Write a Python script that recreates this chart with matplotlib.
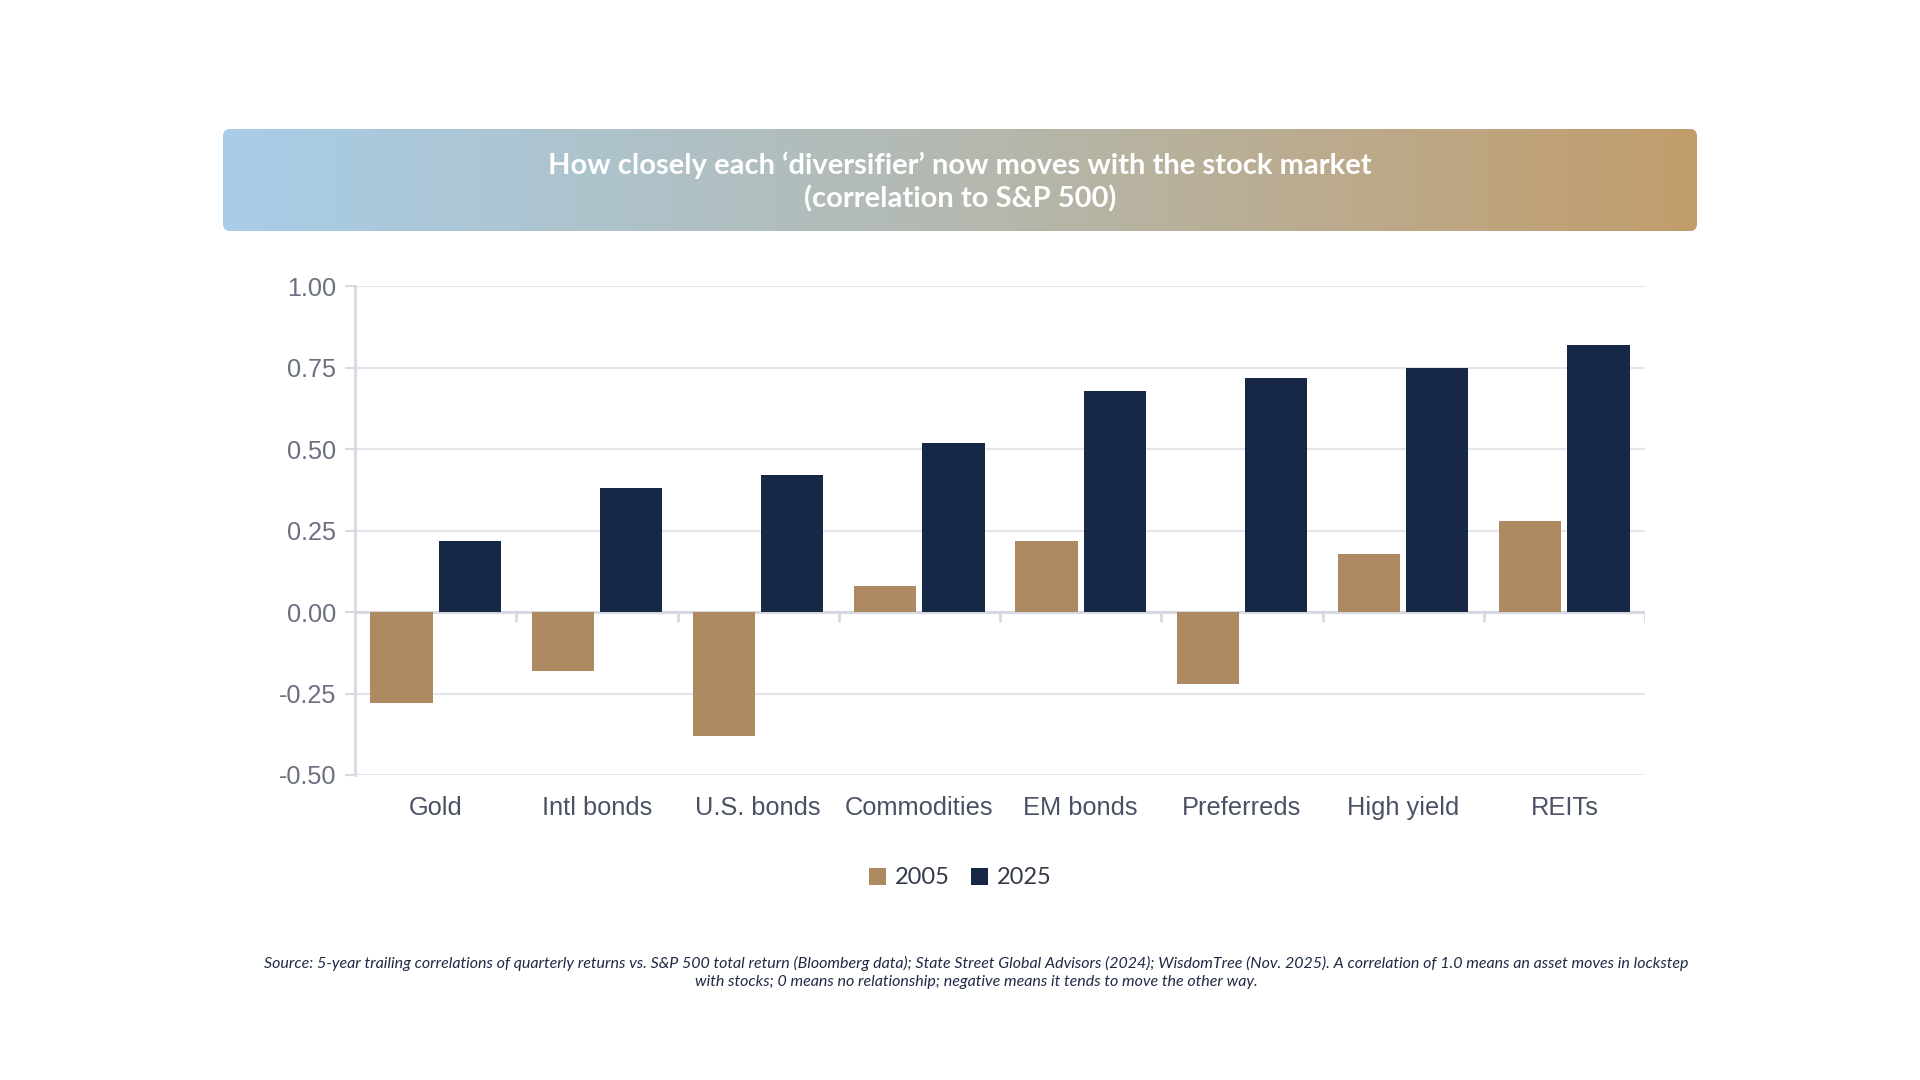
import numpy as np
import matplotlib
matplotlib.use("Agg")
import matplotlib.pyplot as plt
from matplotlib.colors import LinearSegmentedColormap
from matplotlib.patches import FancyBboxPatch

# ---- data ----
categories = ["Gold", "Intl bonds", "U.S. bonds", "Commodities", "EM bonds",
              "Preferreds", "High yield", "REITs"]
values_2005 = [-0.28, -0.18, -0.38, 0.08, 0.22, -0.22, 0.18, 0.28]
values_2025 = [0.22, 0.38, 0.42, 0.52, 0.68, 0.72, 0.75, 0.82]
series_labels = ["2005", "2025"]
y_ticks = [-0.50, -0.25, 0.00, 0.25, 0.50, 0.75, 1.00]

title_lines = ["How closely each \u2018diversifier\u2019 now moves with the stock market",
               "(correlation to S&P 500)"]
note_lines = ["Source: 5-year trailing correlations of quarterly returns vs. S&P 500 total return (Bloomberg data); "
              "State Street Global Advisors (2024); WisdomTree (Nov. 2025). A correlation of 1.0 means an asset moves in lockstep",
              "with stocks; 0 means no relationship; negative means it tends to move the other way."]

# ---- style ----
TAN = "#AE8A62"
NAVY = "#172746"
GRID = "#e4e6ec"
AXIS = "#d6d9e1"
TICKTXT = "#6b7080"
CATTXT = "#4a5164"

W, H = 1920, 1080
fig = plt.figure(figsize=(19.2, 10.8), dpi=100)
fig.patch.set_facecolor("white")

def fx(px):
    return px / W

def fy(py):
    return 1 - py / H

# ---- banner ----
bl, br, bt, bb = 223, 1697, 129, 231
bax = fig.add_axes([fx(bl), fy(bb), fx(br - bl), (bb - bt) / H])
bax.set_xlim(0, br - bl)
bax.set_ylim(0, bb - bt)
bax.axis("off")
cmap = LinearSegmentedColormap.from_list("banner", ["#a8cde8", "#b4b9b0", "#c29d6c"])
grad = np.linspace(0, 1, 512).reshape(1, -1)
im = bax.imshow(grad, cmap=cmap, extent=(0, br - bl, 0, bb - bt), aspect="auto", interpolation="bicubic")
patch = FancyBboxPatch((0, 0), br - bl, bb - bt, boxstyle="round,pad=0,rounding_size=7",
                       facecolor="none", edgecolor="none")
bax.add_patch(patch)
im.set_clip_path(patch)
fig.text(0.5, fy(165), title_lines[0], ha="center", va="center", color="white",
         fontsize=21, fontweight="bold", family=["Lato", "DejaVu Sans"])
fig.text(0.5, fy(199), title_lines[1], ha="center", va="center", color="white",
         fontsize=21, fontweight="bold", family=["Lato", "DejaVu Sans"])

# ---- chart ----
al, ar, at, ab = 355, 1645, 286.5, 775
ax = fig.add_axes([fx(al), fy(ab), fx(ar - al), (ab - at) / H])
x = np.arange(len(categories))
bw = 0.386
off = 0.2115
b1 = ax.bar(x - off, values_2005, width=bw, color=TAN, label=series_labels[0], zorder=3)
b2 = ax.bar(x + off, values_2025, width=bw, color=NAVY, label=series_labels[1], zorder=3)

ax.set_xlim(-0.5, len(categories) - 0.5)
ax.set_ylim(min(y_ticks), max(y_ticks))
ax.set_yticks(y_ticks)
ax.set_yticklabels([f"{v:.2f}" for v in y_ticks], family=["Liberation Sans", "DejaVu Sans"],
                   fontsize=18.2, color=TICKTXT)
ax.set_xticks(x)
ax.set_xticklabels(categories, family=["Liberation Sans", "DejaVu Sans"], fontsize=18.3, color=CATTXT)
ax.tick_params(axis="x", length=0, pad=15)
ax.tick_params(axis="y", length=7.5, width=1.5, color=AXIS, pad=6)
for s in ["top", "right", "bottom"]:
    ax.spines[s].set_visible(False)
ax.spines["left"].set_color(AXIS)
ax.spines["left"].set_linewidth(2)
ax.grid(axis="y", color=GRID, linewidth=1.6, zorder=0)
ax.set_axisbelow(True)
ax.axhline(0, color=AXIS, linewidth=2.2, zorder=2)
bounds = np.arange(len(categories)) + 0.5
ax.vlines(bounds, -0.03, 0, color=AXIS, linewidth=2, zorder=2)

# ---- legend ----
leg = fig.legend(handles=[b1, b2], labels=series_labels, loc="center",
                 bbox_to_anchor=(0.5, fy(878)), ncol=2, frameon=False,
                 prop={"family": ["Lato", "DejaVu Sans"], "size": 17},
                 handlelength=0.75, handleheight=0.75, handletextpad=0.35,
                 columnspacing=0.9, borderaxespad=0)
for t in leg.get_texts():
    t.set_color("#333a48")

# ---- footnote ----
note_x = fx(976)
fig.text(note_x, fy(963), note_lines[0], ha="center", va="center", color="#1f2a44",
         fontsize=11.5, style="italic", family=["Lato", "DejaVu Sans"])
fig.text(note_x, fy(982), note_lines[1], ha="center", va="center", color="#1f2a44",
         fontsize=11.5, style="italic", family=["Lato", "DejaVu Sans"])

fig.savefig("out.png", dpi=100, facecolor="white")
